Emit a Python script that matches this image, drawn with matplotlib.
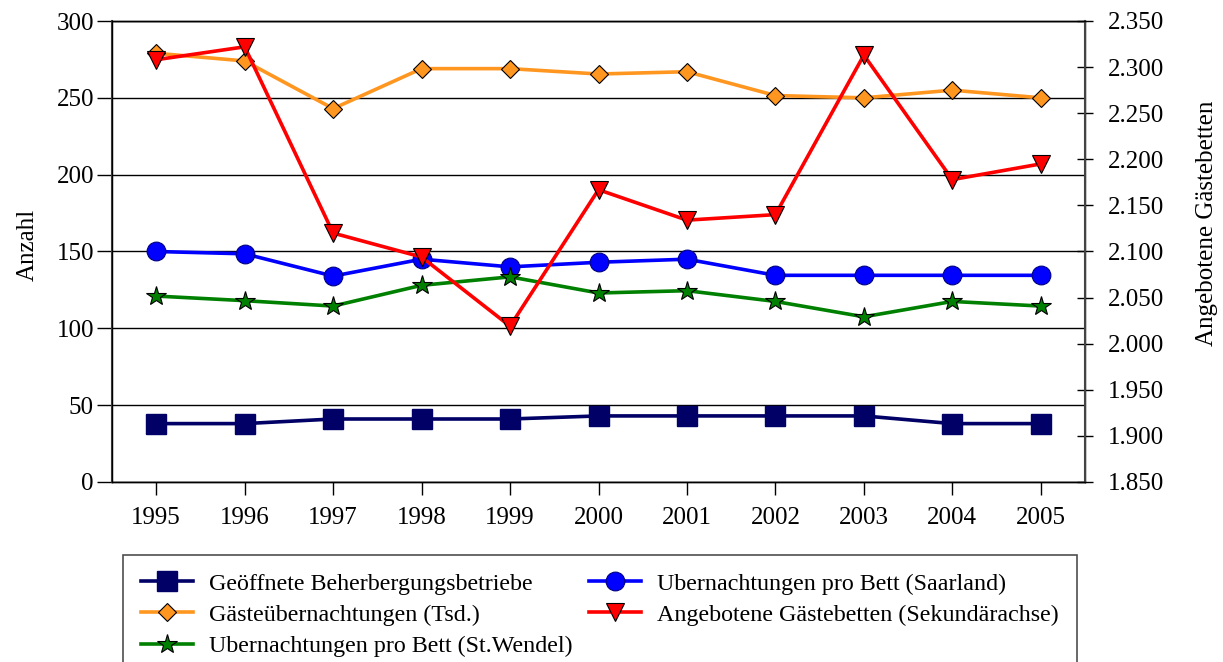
import matplotlib
matplotlib.use("Agg")
import matplotlib.pyplot as plt

years = ["1995", "1996", "1997", "1998", "1999", "2000", "2001", "2002", "2003", "2004", "2005"]
betriebe = [38, 38, 41, 41, 41, 43, 43, 43, 43, 38, 38]
saarland = [150, 148.5, 134, 145, 140, 143, 145, 134.5, 134.5, 134.5, 134.5]
gaeste = [279, 274, 243, 269, 269, 265.5, 267, 251.5, 250, 255, 250]
stwendel = [121, 118, 114.5, 128, 133.5, 123, 124.5, 117.5, 107.5, 117.5, 114.5]
betten = [2308, 2322, 2120, 2094, 2019, 2167, 2134, 2140, 2313, 2178, 2195]

left_ticks = [0, 50, 100, 150, 200, 250, 300]
right_ticks = [1850, 1900, 1950, 2000, 2050, 2100, 2150, 2200, 2250, 2300, 2350]

plt.rcParams['font.family'] = ['Liberation Serif', 'DejaVu Serif']
FS = 18
LFS = 17.25

W, H = 1223, 662
fig = plt.figure(figsize=(W / 100, H / 100), dpi=100)
ax = fig.add_axes([112/W, 1-482/H, (1085-112)/W, (482-21)/H])
ax2 = ax.twinx()

x = list(range(len(years)))
lw = 2.6
h1, = ax.plot(x, betriebe, color='#000066', lw=lw, marker='s', ms=14, mfc='#000066', mec='#000066', label='Geöffnete Beherbergungsbetriebe')
h2, = ax.plot(x, saarland, color='#0000FF', lw=lw, marker='o', ms=13.5, mfc='#0000FF', mec='#000080', mew=0.8, label='Ubernachtungen pro Bett (Saarland)')
h3, = ax.plot(x, gaeste, color='#FF9620', lw=lw, marker='D', ms=9.5, mfc='#FF9620', mec='black', mew=0.8, label='Gästeübernachtungen (Tsd.)')
h5, = ax.plot(x, stwendel, color='#008000', lw=lw, marker='*', ms=15, mfc='#008000', mec='black', mew=0.8, label='Ubernachtungen pro Bett (St.Wendel)')
h4, = ax2.plot(x, betten, color='#FF0000', lw=lw, marker='v', ms=12.5, mfc='#FF0000', mec='black', mew=0.8, label='Angebotene Gästebetten (Sekundärachse)')

ax.set_xlim(-0.5, len(years) - 0.5)
ax.set_ylim(0, 300)
ax2.set_ylim(1850, 2350)
ax.set_xticks(x)
ax.set_xticklabels(years, fontsize=FS)
ax.set_yticks(left_ticks)
ax.set_yticklabels([str(v) for v in left_ticks], fontsize=FS)
ax2.set_yticks(right_ticks)
ax2.set_yticklabels([f"{v:,}".replace(',', '.') for v in right_ticks], fontsize=FS)

ax.yaxis.grid(True, color='black', lw=1.0)
ax.set_axisbelow(True)
ax.tick_params(axis='x', direction='out', length=9, width=1, pad=9)
ax.tick_params(axis='y', direction='out', length=11, width=1, pad=2)
ax2.tick_params(axis='y', direction='inout', length=12, width=1, pad=10.5)
for a in (ax, ax2):
    for s in a.spines.values():
        s.set_color('black')
        s.set_linewidth(1.0)
ax.spines['left'].set_color('#444444')
ax.spines['left'].set_linewidth(1.5)
ax2.spines['right'].set_color('#444444')
ax2.spines['right'].set_linewidth(1.5)

ax.set_ylabel('Anzahl', fontsize=FS)
ax2.set_ylabel('Angebotene Gästebetten', fontsize=FS)
ax.yaxis.set_label_coords((28 - 112) / (1085 - 112), (482 - 245) / (482 - 21))
ax2.yaxis.set_label_coords((1207 - 112) / (1085 - 112), (482 - 223) / (482 - 21))
ax.yaxis.label.set_va('center')
ax2.yaxis.label.set_va('center')

leg = fig.legend(handles=[h1, h3, h5, h2, h4], ncol=2, loc='upper left',
                 bbox_to_anchor=(123/W, 1-555/H), fontsize=LFS,
                 frameon=True, fancybox=False, edgecolor='#222222',
                 handlelength=2.17, handletextpad=0.67, columnspacing=0.7,
                 borderaxespad=0, borderpad=0.75, labelspacing=0.39)
leg.get_frame().set_linewidth(1.2)

fig.savefig('out.png', dpi=100)
